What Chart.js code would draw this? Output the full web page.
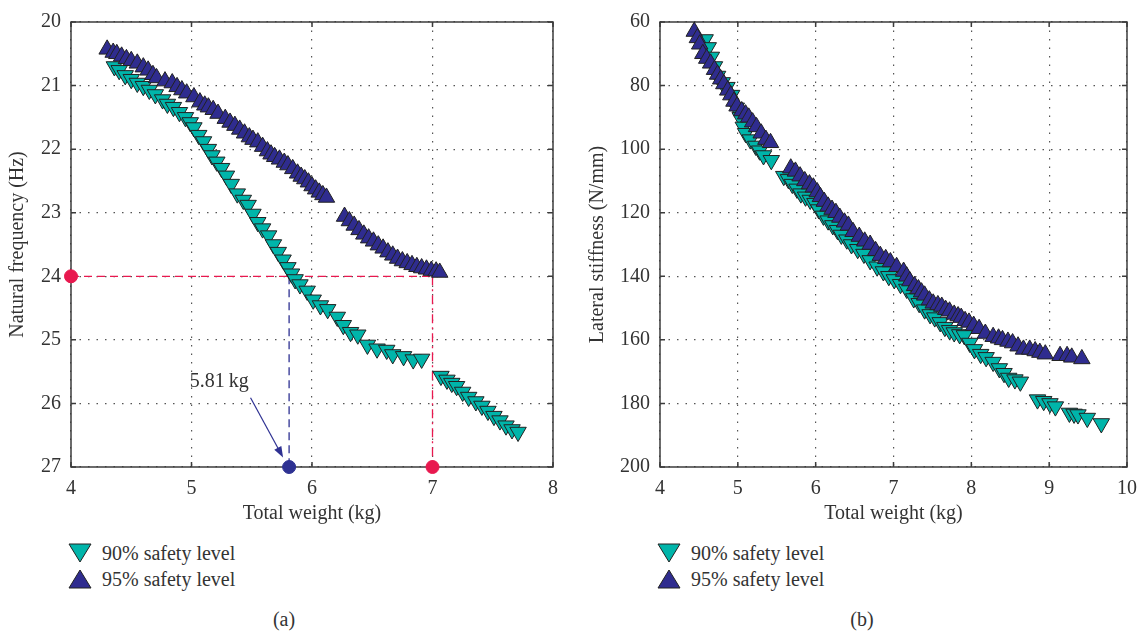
<!DOCTYPE html>
<html>
<head>
<meta charset="utf-8">
<script src="https://cdn.jsdelivr.net/npm/chart.js@4"></script>
<style>
  body { margin: 0; background: #fff; width: 1147px; height: 635px; position: relative; overflow: hidden;
         font-family: 'Liberation Serif', 'Times New Roman', serif; color: #333; }
  .panel { position: absolute; top: 0; }
  .legend { position: absolute; font-size: 20px; line-height: 26px; }
  .legend div { display: flex; align-items: center; height: 26px; }
  .legend svg { margin-right: 10px; }
  .caption { position: absolute; font-size: 20px; transform: translateX(-50%); }
</style>
</head>
<body>
<div class="panel" style="left:0"><canvas id="chartA" width="575" height="535"></canvas></div>
<div class="panel" style="left:575px"><canvas id="chartB" width="572" height="535"></canvas></div>

<div class="legend" style="left:68px; top:540px">
  <div><svg width="24" height="20"><polygon points="1,1 23,1 12,19" fill="#00B5AA" stroke="#222" stroke-width="1"/></svg>90% safety level</div>
  <div><svg width="24" height="20"><polygon points="12,1 23,19 1,19" fill="#2F2C8F" stroke="#222" stroke-width="1"/></svg>95% safety level</div>
</div>
<div class="legend" style="left:657px; top:540px">
  <div><svg width="24" height="20"><polygon points="1,1 23,1 12,19" fill="#00B5AA" stroke="#222" stroke-width="1"/></svg>90% safety level</div>
  <div><svg width="24" height="20"><polygon points="12,1 23,19 1,19" fill="#2F2C8F" stroke="#222" stroke-width="1"/></svg>95% safety level</div>
</div>
<div class="caption" style="left:284px; top:608px">(a)</div>
<div class="caption" style="left:862px; top:608px">(b)</div>

<script>
// ---- (a) natural frequency vs total weight ----
const weightA95 = [4.30, 4.35, 4.38, 4.42, 4.46, 4.50, 4.55, 4.60, 4.64, 4.68, 4.71, 4.78, 4.84, 4.88, 4.92, 4.96,
  5.02, 5.07, 5.11, 5.14, 5.18, 5.22, 5.28, 5.32, 5.36, 5.40, 5.44, 5.48, 5.51, 5.55, 5.59, 5.63, 5.66, 5.69,
  5.73, 5.77, 5.80, 5.84, 5.88, 5.91, 5.94, 5.97, 6.00, 6.03, 6.06, 6.09, 6.12,
  6.27, 6.31, 6.35, 6.39, 6.43, 6.47, 6.51, 6.55, 6.59, 6.63, 6.67, 6.71, 6.75, 6.79, 6.83, 6.87, 6.91, 6.95,
  6.99, 7.03, 7.06];
const freqA95 = [20.43, 20.48, 20.50, 20.54, 20.58, 20.61, 20.65, 20.71, 20.76, 20.83, 20.88, 20.93, 20.96, 21.02, 21.07, 21.12,
  21.18, 21.26, 21.31, 21.34, 21.38, 21.44, 21.52, 21.58, 21.63, 21.69, 21.75, 21.81, 21.85, 21.89, 21.96, 22.03, 22.08, 22.12,
  22.16, 22.21, 22.25, 22.31, 22.38, 22.43, 22.47, 22.52, 22.58, 22.63, 22.68, 22.72, 22.76,
  23.06, 23.13, 23.20, 23.27, 23.34, 23.40, 23.45, 23.51, 23.56, 23.62, 23.67, 23.72, 23.76, 23.79, 23.82, 23.85, 23.87, 23.89,
  23.91, 23.92, 23.94];

const weightA90 = [4.36, 4.40, 4.45, 4.50, 4.55, 4.60, 4.65, 4.70, 4.76, 4.80, 4.85, 4.90, 4.95, 4.99, 5.02, 5.06,
  5.10, 5.14, 5.17, 5.21, 5.25, 5.29, 5.33, 5.38, 5.43, 5.47, 5.51, 5.55, 5.59, 5.64, 5.68, 5.72, 5.76, 5.80,
  5.83, 5.86, 5.90, 5.96, 6.01, 6.07, 6.13, 6.21, 6.26, 6.32, 6.38, 6.46, 6.54, 6.62, 6.67, 6.76, 6.84, 6.91,
  7.07, 7.12, 7.16, 7.20, 7.25, 7.30, 7.36, 7.41, 7.46, 7.51, 7.56, 7.61, 7.66, 7.71];
const freqA90 = [20.70, 20.76, 20.84, 20.90, 20.96, 21.01, 21.07, 21.14, 21.22, 21.29, 21.34, 21.42, 21.50, 21.58, 21.66, 21.78,
  21.88, 22.00, 22.10, 22.20, 22.30, 22.42, 22.55, 22.70, 22.80, 22.88, 23.02, 23.15, 23.25, 23.36, 23.50, 23.62, 23.74, 23.86,
  23.96, 24.05, 24.13, 24.23, 24.37, 24.46, 24.52, 24.64, 24.77, 24.88, 24.92, 25.08, 25.14, 25.16, 25.23, 25.26, 25.31, 25.30,
  25.57, 25.63, 25.68, 25.73, 25.82, 25.90, 25.97, 26.04, 26.12, 26.20, 26.27, 26.35, 26.41, 26.45];

const refFreq = 24;
const refWeight90 = 5.81;
const refWeight95 = 7.0;
const noteText = '5.81\u2009kg';
const notePos = [5.23, 25.66];
const arrowFrom = [5.49, 25.91];
const arrowTo = [5.76, 26.85];

// ---- (b) lateral stiffness vs total weight ----
const weightB95 = [4.44, 4.48, 4.51, 4.55, 4.60, 4.65, 4.70, 4.74, 4.78, 4.82, 4.87, 4.91, 4.95, 4.99, 5.05, 5.10,
  5.14, 5.19, 5.24, 5.30, 5.36, 5.42,
  5.68, 5.74, 5.80, 5.86, 5.92, 5.97, 6.02, 6.06, 6.11, 6.16, 6.21, 6.26, 6.31, 6.37, 6.42, 6.48, 6.56, 6.63,
  6.70, 6.77, 6.83, 6.90, 6.96, 7.04, 7.13, 7.17, 7.21, 7.27, 7.32, 7.36, 7.40, 7.46, 7.51, 7.57, 7.62, 7.67,
  7.72, 7.78, 7.83, 7.87, 7.92, 7.97, 8.03, 8.10, 8.18, 8.28, 8.35, 8.40, 8.47, 8.53, 8.60, 8.67, 8.75, 8.82,
  8.88, 8.95, 9.14, 9.23, 9.29, 9.42];
const stiffB95 = [63, 65, 67, 70, 71.5, 73, 75, 76.5, 78, 79.5, 81.5, 83, 85, 86.5, 88, 89,
  90, 91.5, 93, 95, 97, 98,
  106, 107, 108.5, 110, 111, 112, 113.5, 115, 116.5, 118, 119, 120, 121.5, 123, 124, 126, 127.5, 129,
  130, 132, 133.5, 134.5, 135.5, 137, 138.5, 140, 141.5, 143, 144, 145, 146, 147.5, 148.5, 149, 149.5, 150.5,
  151, 152, 152.5, 153, 154, 154.5, 155.5, 156.5, 158, 159, 159.5, 160, 160.5, 161, 162, 163, 163, 163.5,
  164, 164.5, 165, 165, 165.5, 166];

const weightB90 = [4.58, 4.62, 4.66, 4.70, 4.74, 4.80, 4.86, 4.92, 4.98, 5.03, 5.07, 5.10, 5.16, 5.23, 5.28, 5.33, 5.43,
  5.59, 5.65, 5.70, 5.76, 5.81, 5.87, 5.93, 5.99, 6.04, 6.10, 6.16, 6.22, 6.28, 6.33, 6.40, 6.46, 6.54, 6.62,
  6.70, 6.79, 6.87, 6.94, 7.01, 7.09, 7.17, 7.26, 7.33, 7.40, 7.47, 7.53, 7.60, 7.66, 7.72, 7.78, 7.85, 7.91,
  7.98, 8.04, 8.12, 8.19, 8.28, 8.36, 8.42, 8.48, 8.56, 8.63,
  8.85, 8.93, 9.01, 9.08, 9.26, 9.32, 9.37, 9.49, 9.67];
const stiffB90 = [65.5, 68, 71, 74, 77, 79, 80.5, 83, 87, 90, 93, 95, 97, 99, 100.5, 102, 103.5,
  108.5, 109.5, 111, 112.5, 114, 115, 116, 117, 119, 121, 122.5, 124, 125.5, 127, 128.5, 130, 131.5, 133,
  135, 137, 138.5, 140, 141, 142.5, 144, 147, 148.5, 150.5, 152, 153, 154.5, 156, 157, 157.7, 158.3, 158.6,
  161, 163, 164.5, 165.5, 167, 169, 170.5, 172, 172.5, 173.2,
  178.8, 179.3, 180, 181, 183, 183.3, 183.5, 184.6, 186.3];

const freqTicks = [20, 27, 1];
const weightTicksA = [4, 8, 1];
const stiffTicks = [60, 200, 20];
const weightTicksB = [4, 10, 1];

const TEAL = '#00B5AA';
const NAVY = '#2F2C8F';
const RED = '#E8194F';
const BLUE = '#2E3192';
const FONT = "'Liberation Serif', 'Times New Roman', serif";

Chart.defaults.font.family = FONT;
Chart.defaults.font.size = 20;
Chart.defaults.color = '#333';

function toPoints(xs, ys) {
  return xs.map((x, i) => ({ x: x, y: ys[i] }));
}

// box around the plot with short inward ticks on all four sides
const framePlugin = {
  id: 'frame',
  beforeDatasetsDraw(chart) {
    const { ctx, chartArea: a, scales: { x, y } } = chart;
    ctx.save();
    ctx.strokeStyle = '#3c3c3c';
    ctx.lineWidth = 1.5;
    ctx.strokeRect(a.left, a.top, a.right - a.left, a.bottom - a.top);
    ctx.beginPath();
    x.ticks.forEach(t => {
      const px = x.getPixelForValue(t.value);
      ctx.moveTo(px, a.bottom); ctx.lineTo(px, a.bottom - 5);
      ctx.moveTo(px, a.top); ctx.lineTo(px, a.top + 5);
    });
    y.ticks.forEach(t => {
      const py = y.getPixelForValue(t.value);
      ctx.moveTo(a.left, py); ctx.lineTo(a.left + 5, py);
      ctx.moveTo(a.right, py); ctx.lineTo(a.right - 5, py);
    });
    ctx.stroke();
    ctx.restore();
  }
};

// "5.81 kg" label with arrow pointing at the read-off weight
const notePlugin = {
  id: 'note',
  afterDatasetsDraw(chart) {
    const { ctx, scales: { x, y } } = chart;
    ctx.save();
    ctx.font = '20px ' + FONT;
    ctx.fillStyle = '#333';
    ctx.textAlign = 'center';
    ctx.textBaseline = 'middle';
    ctx.fillText(noteText, x.getPixelForValue(notePos[0]), y.getPixelForValue(notePos[1]));

    const x0 = x.getPixelForValue(arrowFrom[0]), y0 = y.getPixelForValue(arrowFrom[1]);
    const x1 = x.getPixelForValue(arrowTo[0]), y1 = y.getPixelForValue(arrowTo[1]);
    const ang = Math.atan2(y1 - y0, x1 - x0);
    ctx.strokeStyle = BLUE;
    ctx.fillStyle = BLUE;
    ctx.lineWidth = 1.2;
    ctx.beginPath();
    ctx.moveTo(x0, y0);
    ctx.lineTo(x1 - 8 * Math.cos(ang), y1 - 8 * Math.sin(ang));
    ctx.stroke();
    ctx.beginPath();
    ctx.moveTo(x1, y1);
    ctx.lineTo(x1 - 11 * Math.cos(ang) + 4 * Math.sin(ang), y1 - 11 * Math.sin(ang) - 4 * Math.cos(ang));
    ctx.lineTo(x1 - 11 * Math.cos(ang) - 4 * Math.sin(ang), y1 - 11 * Math.sin(ang) + 4 * Math.cos(ang));
    ctx.closePath();
    ctx.fill();
    ctx.restore();
  }
};

function seriesDataset(label, points, color, down) {
  return {
    label: label,
    data: points,
    backgroundColor: color,
    borderColor: '#222',
    borderWidth: 1,
    pointStyle: 'triangle',
    pointRadius: 9.5,
    pointHoverRadius: 9.5,
    pointRotation: down ? 180 : 0,
    order: down ? 2 : 1
  };
}

function refLine(points, color, dash) {
  return {
    data: points,
    showLine: true,
    borderColor: color,
    borderWidth: 1.3,
    borderDash: dash,
    pointRadius: 0,
    fill: false,
    order: 3,
    clip: false
  };
}

function axis(range, title, vertical, size, titlePad) {
  return {
    type: 'linear',
    min: range[0],
    max: range[1],
    reverse: vertical,
    ticks: { stepSize: range[2], padding: 10, color: '#333', font: { size: 20 } },
    grid: { color: '#555', lineWidth: 1.2, drawTicks: false },
    // v4 keeps the grid line dash pattern under border
    border: { display: false, dash: [1.5, 7] },
    title: {
      display: true,
      text: title,
      color: '#333',
      font: { size: 20 },
      padding: vertical ? { top: titlePad, bottom: 0 } : { top: 0, bottom: titlePad }
    },
    afterFit(scale) {
      if (vertical) scale.width = size; else scale.height = size;
    }
  };
}

function baseOptions(xAxis, yAxis, padRight) {
  return {
    responsive: false,
    animation: false,
    devicePixelRatio: 1,
    layout: { padding: { top: 15, right: padRight, left: 0, bottom: 0 } },
    plugins: { legend: { display: false }, tooltip: { enabled: false } },
    scales: { x: xAxis, y: yAxis }
  };
}

function createChartA() {
  const datasets = [
    seriesDataset('95% safety level', toPoints(weightA95, freqA95), NAVY, false),
    seriesDataset('90% safety level', toPoints(weightA90, freqA90), TEAL, true),
    refLine([{ x: weightTicksA[0], y: refFreq }, { x: refWeight95, y: refFreq }], RED, [8, 5]),
    refLine([{ x: refWeight95, y: refFreq }, { x: refWeight95, y: freqTicks[1] }], RED, [9, 4, 2, 4]),
    refLine([{ x: refWeight90, y: refFreq }, { x: refWeight90, y: freqTicks[1] }], BLUE, [8, 5]),
    {
      data: [{ x: weightTicksA[0], y: refFreq }, { x: refWeight95, y: freqTicks[1] }],
      backgroundColor: RED, borderColor: RED, pointRadius: 6.5, order: 0, clip: false
    },
    {
      data: [{ x: refWeight90, y: freqTicks[1] }],
      backgroundColor: BLUE, borderColor: BLUE, pointRadius: 6.5, order: 0, clip: false
    }
  ];
  new Chart(document.getElementById('chartA'), {
    type: 'scatter',
    data: { datasets: datasets },
    options: baseOptions(
      axis(weightTicksA, 'Total weight (kg)', false, 68, 9),
      axis(freqTicks, 'Natural frequency (Hz)', true, 71, 6),
      22
    ),
    plugins: [framePlugin, notePlugin]
  });
}

function createChartB() {
  const datasets = [
    seriesDataset('95% safety level', toPoints(weightB95, stiffB95), NAVY, false),
    seriesDataset('90% safety level', toPoints(weightB90, stiffB90), TEAL, true)
  ];
  new Chart(document.getElementById('chartB'), {
    type: 'scatter',
    data: { datasets: datasets },
    options: baseOptions(
      axis(weightTicksB, 'Total weight (kg)', false, 68, 9),
      axis(stiffTicks, 'Lateral stiffness (N/mm)', true, 85, 11),
      14
    ),
    plugins: [framePlugin]
  });
}

createChartA();
createChartB();
</script>
</body>
</html>
